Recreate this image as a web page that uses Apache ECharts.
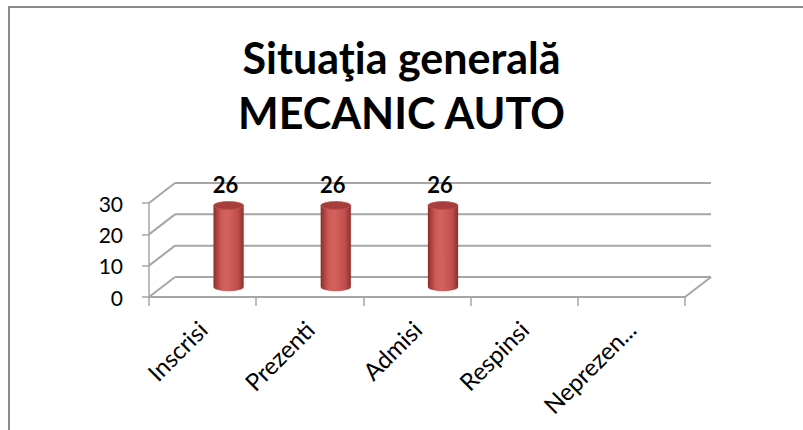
<!DOCTYPE html>
<html>
<head>
<meta charset="utf-8">
<script src="https://cdn.jsdelivr.net/npm/echarts@6/dist/echarts.min.js"></script>
<style>
  html, body { margin: 0; padding: 0; background: #fff; }
  #chart { width: 803px; height: 430px; }
</style>
</head>
<body>
<div id="chart"></div>
<script>
// categorii si valori
const categories = ['Inscrisi', 'Prezenti', 'Admisi', 'Respinsi', 'Neprezen...'];
const values = [26, 26, 26, null, null];
const yTicks = [0, 10, 20, 30];

// offset pentru peretele din spate (efect 3D)
const DEPTH_X = 26;
const DEPTH_Y = -20;
const FONT = 'Lato';

const chart = echarts.init(document.getElementById('chart'), null, { renderer: 'svg' });

function renderFrame(params, api) {
  const band = api.size([1, 0])[0];
  const last = categories.length - 1;
  const children = [];
  const lineStyle = { stroke: '#a6a6a6', lineWidth: 2 };

  yTicks.forEach(t => {
    const left = api.coord([0, t]);
    const right = api.coord([last, t]);
    const x0 = left[0] - band / 2;
    const x1 = right[0] + band / 2;
    // linie pe peretele din spate
    children.push({
      type: 'line',
      shape: { x1: x0 + DEPTH_X, y1: left[1] + DEPTH_Y, x2: x1 + DEPTH_X, y2: left[1] + DEPTH_Y },
      style: lineStyle
    });
    // diagonala pe peretele lateral
    children.push({
      type: 'line',
      shape: { x1: x0, y1: left[1], x2: x0 + DEPTH_X, y2: left[1] + DEPTH_Y },
      style: lineStyle
    });
  });

  // marginea dreapta a podelei
  const r0 = api.coord([last, 0]);
  children.push({
    type: 'line',
    shape: { x1: r0[0] + band / 2, y1: r0[1], x2: r0[0] + band / 2 + DEPTH_X, y2: r0[1] + DEPTH_Y },
    style: lineStyle
  });

  return { type: 'group', children };
}

function renderCylinder(params, api) {
  const v = api.value(1);
  if (v == null || isNaN(v)) return;
  const idx = api.value(0);
  const band = api.size([1, 0])[0];
  const top = api.coord([idx, v]);
  const base = api.coord([idx, 0]);
  const cx = top[0] + DEPTH_X;
  const yT = top[1] + DEPTH_Y / 2;
  const yB = base[1] + DEPTH_Y / 2;
  const rx = band * 0.14;
  const ry = 4;

  const body = 'M' + (cx - rx) + ' ' + yT +
    ' L' + (cx - rx) + ' ' + yB +
    ' A' + rx + ' ' + ry + ' 0 0 0 ' + (cx + rx) + ' ' + yB +
    ' L' + (cx + rx) + ' ' + yT + ' Z';
  const cap = 'M' + (cx - rx) + ' ' + yT +
    ' A' + rx + ' ' + ry + ' 0 0 0 ' + (cx + rx) + ' ' + yT +
    ' A' + rx + ' ' + ry + ' 0 0 0 ' + (cx - rx) + ' ' + yT + ' Z';

  return {
    type: 'group',
    children: [
      {
        type: 'path',
        shape: { pathData: body },
        style: {
          fill: {
            type: 'linear', x: 0, y: 0, x2: 1, y2: 0,
            colorStops: [
              { offset: 0, color: '#8f2f2c' },
              { offset: 0.25, color: '#cc5a56' },
              { offset: 0.45, color: '#d4635f' },
              { offset: 0.8, color: '#c0504d' },
              { offset: 1, color: '#8f2f2c' }
            ]
          },
          stroke: 'rgba(120,30,30,0.4)',
          lineWidth: 0.5
        }
      },
      {
        type: 'path',
        shape: { pathData: cap },
        style: { fill: '#a63e3b', stroke: '#c0504d', lineWidth: 0.8 }
      },
      {
        type: 'text',
        x: cx - 3,
        y: yT - 21,
        style: {
          text: String(v),
          fontFamily: FONT,
          fontWeight: 'bold',
          fontSize: 22,
          fill: '#000',
          align: 'center',
          verticalAlign: 'middle'
        }
      }
    ]
  };
}

chart.setOption({
  animation: false,
  title: {
    text: 'Situaţia generală\nMECANIC AUTO',
    left: 'center',
    top: 25,
    textStyle: {
      fontFamily: FONT,
      fontWeight: 'bold',
      fontSize: 43,
      lineHeight: 55,
      color: '#000'
    }
  },
  graphic: [
    { type: 'line', shape: { x1: 8, y1: 7, x2: 803, y2: 7 }, style: { stroke: '#8c8c8c', lineWidth: 2 } },
    { type: 'line', shape: { x1: 9, y1: 6, x2: 9, y2: 430 }, style: { stroke: '#8c8c8c', lineWidth: 2 } }
  ],
  grid: {
    left: 149,
    right: 118,
    top: 203,
    bottom: 133
  },
  xAxis: {
    type: 'category',
    data: categories,
    axisLine: { lineStyle: { color: '#a6a6a6', width: 2 } },
    axisTick: { show: true, length: 9, interval: 0, lineStyle: { color: '#a6a6a6', width: 1.5 } },
    axisLabel: {
      interval: 0,
      rotate: 45,
      margin: 28,
      color: '#000',
      fontFamily: FONT,
      fontSize: 24
    },
    splitLine: { show: false }
  },
  yAxis: {
    type: 'value',
    min: 0,
    max: 30,
    interval: 10,
    axisLine: { show: true, lineStyle: { color: '#a6a6a6', width: 1.5 } },
    axisTick: { show: true, length: 7, lineStyle: { color: '#a6a6a6', width: 1.5 } },
    axisLabel: {
      margin: 26,
      color: '#000',
      fontFamily: FONT,
      fontSize: 21
    },
    splitLine: { show: false }
  },
  series: [
    {
      type: 'custom',
      renderItem: renderFrame,
      data: [[0, 0]],
      z: 1,
      silent: true
    },
    {
      type: 'custom',
      renderItem: renderCylinder,
      data: values.map((v, i) => [i, v]),
      z: 3
    }
  ]
});
</script>
</body>
</html>
